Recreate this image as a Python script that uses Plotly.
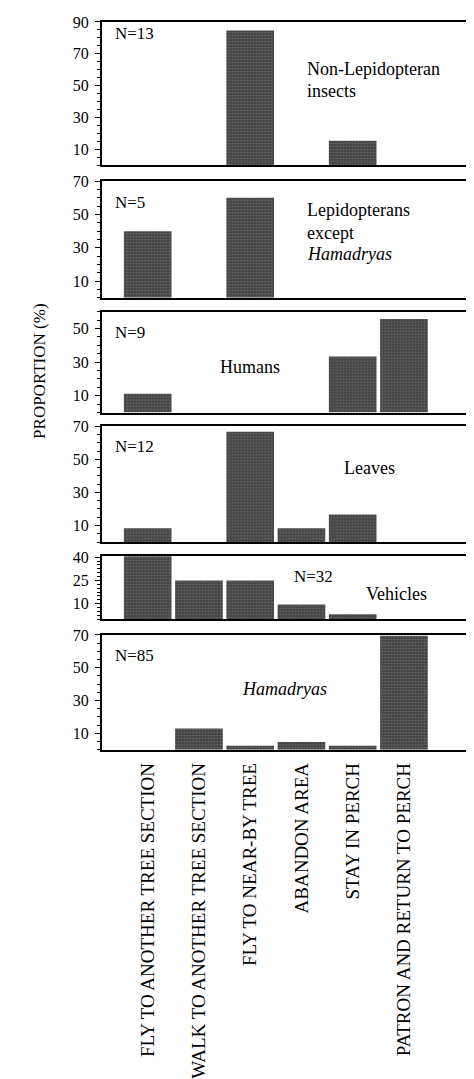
import plotly.graph_objects as go

# The page body has an 8px margin; work in reference pixel coordinates and shift.
OFF = 8
W, H = 474 - OFF, 1079 - OFF

categories = ["FLY TO ANOTHER TREE SECTION", "WALK TO ANOTHER TREE SECTION",
              "FLY TO NEAR-BY TREE", "ABANDON AREA", "STAY IN PERCH",
              "PATRON AND RETURN TO PERCH"]
non_lep = [0, 0, 84.6, 0, 15.4, 0]
lep = [40, 0, 60, 0, 0, 0]
humans = [11.1, 0, 0, 0, 33.3, 55.6]
leaves = [8.3, 0, 66.7, 8.3, 16.7, 0]
vehicles = [40.6, 25, 25, 9.4, 3.1, 0]
hamadryas = [0, 12.9, 2.4, 4.7, 2.4, 69.5]

series = [non_lep, lep, humans, leaves, vehicles, hamadryas]
n_labels = ["N=13", "N=5", "N=9", "N=12", "N=32", "N=85"]
y_ranges = [[0, 90], [0, 70], [0, 60], [0, 70], [0, 40.8], [0, 70]]
y_ticks = [[10, 30, 50, 70, 90], [10, 30, 50, 70], [10, 30, 50],
           [10, 30, 50, 70], [10, 25, 40], [10, 30, 50, 70]]
minor_dt = [5, 5, 5, 5, 2.5, 5]
# panel pixel extents in the reference (top, bottom)
panels_px = [(14, 159), (175, 293), (307, 409), (423, 540), (554, 618), (634, 750)]

FONT = "Liberation Serif"
xs = list(range(len(categories)))


def px(x):
    return (x - OFF) / W


def py(y):
    return 1 - (y - OFF) / H


fig = go.Figure()
layout = dict(width=W, height=H, margin=dict(l=0, r=0, t=0, b=0),
              paper_bgcolor="white", plot_bgcolor="white", showlegend=False,
              font=dict(family=FONT, size=16, color="black"))

xdom = [px(102), px(468)]
for i, vals in enumerate(series):
    k = i + 1
    xa = "x" if k == 1 else f"x{k}"
    ya = "y" if k == 1 else f"y{k}"
    fig.add_trace(go.Bar(
        x=xs, y=vals, xaxis=xa, yaxis=ya, width=0.93,
        marker=dict(color="#444444", line=dict(width=0),
                    pattern=dict(shape=".", fgcolor="#9a9a9a", size=3, solidity=0.25)),
    ))
    top, bot = panels_px[i]
    last = (k == len(series))
    layout["xaxis" if k == 1 else f"xaxis{k}"] = dict(
        domain=xdom, range=[-0.895, 6.23], anchor=ya,
        showline=True, mirror=True, linecolor="black", linewidth=1.5,
        showgrid=False, zeroline=False, ticks="",
        tickmode="array", tickvals=xs,
        ticktext=categories if last else [""] * len(xs),
        showticklabels=last, tickangle=-90, ticklabelstandoff=4,
        tickfont=dict(family=FONT, size=19, color="black"),
    )
    layout["yaxis" if k == 1 else f"yaxis{k}"] = dict(
        domain=[py(bot), py(top)], range=y_ranges[i], anchor=xa,
        showline=True, mirror="allticks", linecolor="black", linewidth=1.5,
        showgrid=False, zeroline=False,
        tickmode="array", tickvals=y_ticks[i], ticks="outside", ticklen=5,
        tickwidth=1.3, tickcolor="black", ticklabelstandoff=3,
        minor=dict(ticks="outside", tick0=0, dtick=minor_dt[i], ticklen=3,
                   tickwidth=1, tickcolor="black", showgrid=False),
        tickfont=dict(family=FONT, size=16, color="black"),
    )

fig.update_layout(**layout)

annots = []


def ann(text, x, y, anchor="left", size=18, italic=False):
    t = f"<i>{text}</i>" if italic else text
    annots.append(dict(text=t, x=px(x), y=py(y), xref="paper", yref="paper",
                       xanchor=anchor, yanchor="middle", showarrow=False,
                       font=dict(family=FONT, size=size, color="black")))


ann(n_labels[0], 113, 26, size=17)
ann("Non-Lepidopteran", 306, 62)
ann("insects", 306, 84)
ann(n_labels[1], 113, 197, size=17)
ann("Lepidopterans", 306, 204)
ann("except", 306, 227)
ann("Hamadryas", 306, 249, italic=True)
ann(n_labels[2], 113, 328, size=17)
ann("Humans", 251, 363, anchor="center")
ann(n_labels[3], 113, 443, size=17)
ann("Leaves", 370, 465, anchor="center")
ann(n_labels[4], 293, 575, size=17)
ann("Vehicles", 397, 593, anchor="center")
ann(n_labels[5], 113, 655, size=17)
ann("Hamadryas", 285, 689, anchor="center", italic=True)

annots.append(dict(text="PROPORTION (%)", x=px(40), y=py(367), xref="paper", yref="paper",
                   xanchor="center", yanchor="middle", showarrow=False, textangle=-90,
                   font=dict(family=FONT, size=17, color="black")))
fig.update_layout(annotations=annots)

fig.write_html("out.html")
